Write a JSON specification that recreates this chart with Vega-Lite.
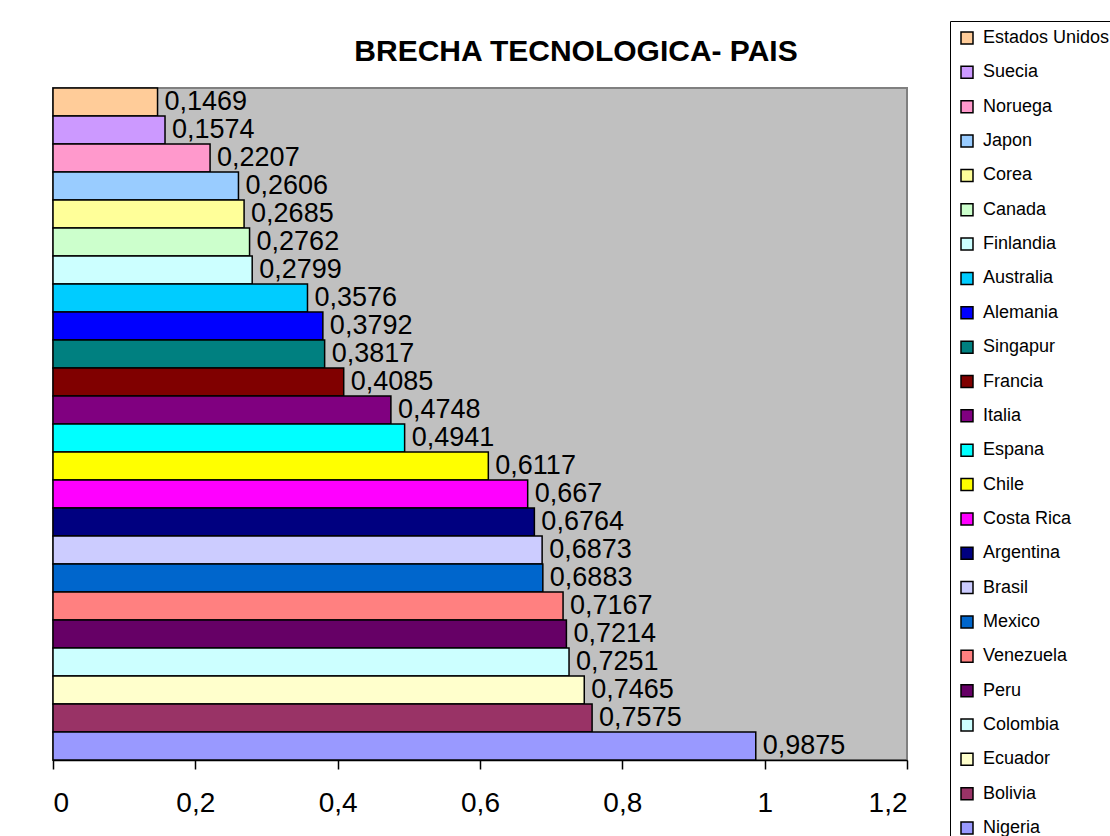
{
  "$schema": "https://vega.github.io/schema/vega-lite/v6.json",
  "width": 854,
  "height": 672,
  "autosize": {"type": "none"},
  "padding": {"left": 53, "top": 88, "right": 203, "bottom": 76},
  "background": "white",
  "config": {
    "locale": {"number": {"decimal": ",", "thousands": ".", "grouping": [3], "currency": ["", " €"]}},
    "font": "Liberation Sans",
    "view": {"fill": "#C0C0C0", "stroke": "#808080", "strokeWidth": 2}
  },
  "title": {
    "text": "BRECHA TECNOLOGICA- PAIS",
    "font": "Liberation Sans",
    "fontSize": 30,
    "fontWeight": "bold",
    "color": "black",
    "anchor": "middle",
    "dx": 96,
    "dy": 95,
    "baseline": "alphabetic",
    "offset": 25
  },
  "data": {
    "values": [
      {"pais": "Estados Unidos", "valor": 0.1469},
      {"pais": "Suecia", "valor": 0.1574},
      {"pais": "Noruega", "valor": 0.2207},
      {"pais": "Japon", "valor": 0.2606},
      {"pais": "Corea", "valor": 0.2685},
      {"pais": "Canada", "valor": 0.2762},
      {"pais": "Finlandia", "valor": 0.2799},
      {"pais": "Australia", "valor": 0.3576},
      {"pais": "Alemania", "valor": 0.3792},
      {"pais": "Singapur", "valor": 0.3817},
      {"pais": "Francia", "valor": 0.4085},
      {"pais": "Italia", "valor": 0.4748},
      {"pais": "Espana", "valor": 0.4941},
      {"pais": "Chile", "valor": 0.6117},
      {"pais": "Costa Rica", "valor": 0.667},
      {"pais": "Argentina", "valor": 0.6764},
      {"pais": "Brasil", "valor": 0.6873},
      {"pais": "Mexico", "valor": 0.6883},
      {"pais": "Venezuela", "valor": 0.7167},
      {"pais": "Peru", "valor": 0.7214},
      {"pais": "Colombia", "valor": 0.7251},
      {"pais": "Ecuador", "valor": 0.7465},
      {"pais": "Bolivia", "valor": 0.7575},
      {"pais": "Nigeria", "valor": 0.9875}
    ]
  },
  "encoding": {
    "y": {
      "field": "pais",
      "type": "nominal",
      "sort": null,
      "scale": {"paddingInner": 0, "paddingOuter": 0},
      "axis": null
    },
    "x": {
      "field": "valor",
      "type": "quantitative",
      "scale": {"domain": [0, 1.2], "nice": false},
      "axis": {
        "title": null,
        "values": [0, 0.2, 0.4, 0.6, 0.8, 1, 1.2],
        "format": "~g",
        "grid": false,
        "domainColor": "black",
        "domainWidth": 1.5,
        "tickColor": "black",
        "tickWidth": 1.5,
        "tickSize": 9,
        "labelFont": "Liberation Sans",
        "labelFontSize": 28,
        "labelColor": "black",
        "labelPadding": 20
      }
    }
  },
  "layer": [
    {
      "mark": {"type": "bar", "stroke": "black", "strokeWidth": 1.5},
      "encoding": {
        "color": {
          "field": "pais",
          "type": "nominal",
          "sort": null,
          "scale": {
            "domain": ["Estados Unidos", "Suecia", "Noruega", "Japon", "Corea", "Canada", "Finlandia", "Australia", "Alemania", "Singapur", "Francia", "Italia", "Espana", "Chile", "Costa Rica", "Argentina", "Brasil", "Mexico", "Venezuela", "Peru", "Colombia", "Ecuador", "Bolivia", "Nigeria"],
            "range": ["#FFCC99", "#CC99FF", "#FF99CC", "#99CCFF", "#FFFF99", "#CCFFCC", "#CCFFFF", "#00CCFF", "#0000FF", "#008080", "#800000", "#800080", "#00FFFF", "#FFFF00", "#FF00FF", "#000080", "#CCCCFF", "#0066CC", "#FF8080", "#660066", "#CCFFFF", "#FFFFCC", "#993366", "#9999FF"]
          },
          "legend": {
            "title": null,
            "orient": "none",
            "legendX": 897,
            "legendY": -67,
            "strokeColor": "black",
            "fillColor": "white",
            "padding": 8,
            "symbolType": "square",
            "symbolSize": 144,
            "symbolStrokeColor": "black",
            "symbolStrokeWidth": 1.5,
            "labelFont": "Liberation Sans",
            "labelFontSize": 18,
            "labelColor": "black",
            "labelOffset": 7,
            "rowPadding": 16.35,
            "labelLimit": 300
          }
        }
      }
    },
    {
      "mark": {"type": "text", "align": "left", "baseline": "middle", "dx": 7, "font": "Liberation Sans", "fontSize": 27, "color": "black"},
      "encoding": {
        "text": {"field": "valor", "type": "quantitative", "format": "~g"}
      }
    }
  ]
}
